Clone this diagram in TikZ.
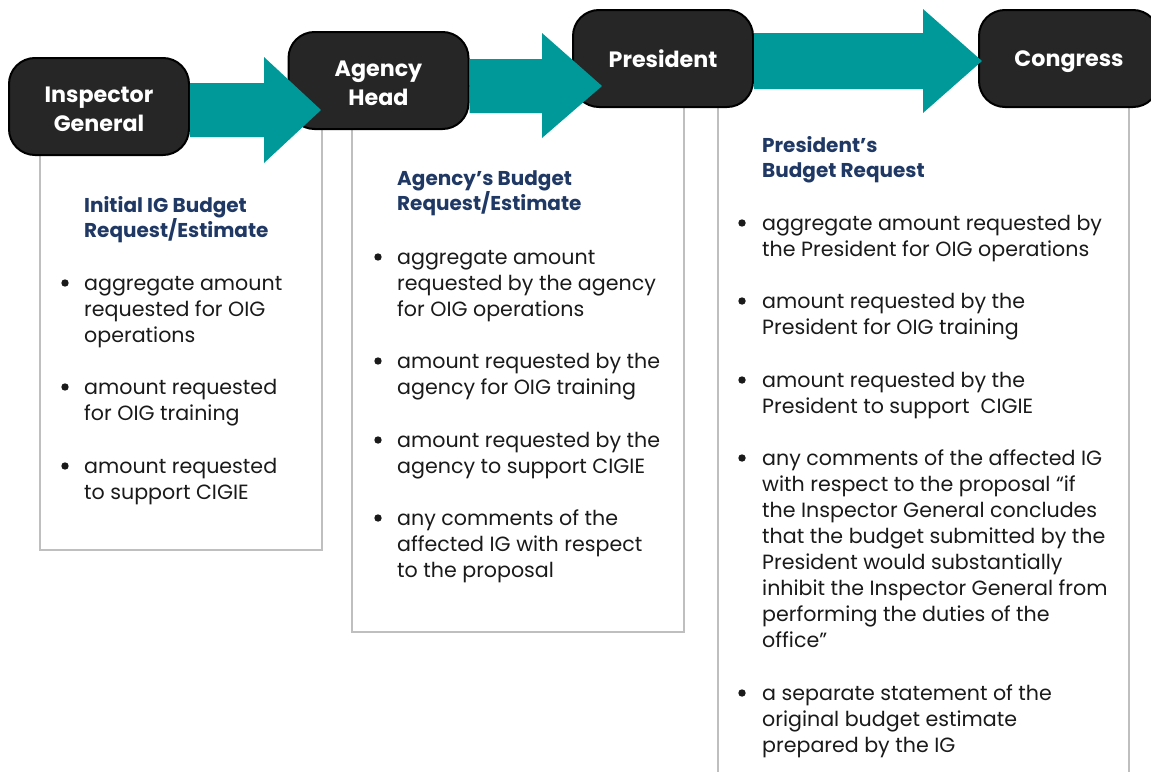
\documentclass[tikz,border=0pt]{standalone}
\usepackage{fontspec}
\setmainfont{Poppins}
\definecolor{stagefill}{HTML}{262626}
\definecolor{flowteal}{HTML}{009999}
\definecolor{panelgray}{HTML}{BFBFBF}
\definecolor{headnavy}{HTML}{1F3864}
\definecolor{bodyink}{HTML}{1A1A1A}
\newcommand{\bodysize}{\fontsize{20.6}{26}\selectfont}
\newcommand{\headsize}{\fontsize{20}{25.5}\selectfont\bfseries}
\newcommand{\stagesize}{\fontsize{22.2}{29}\selectfont\bfseries}
\begin{document}
\begin{tikzpicture}[x=1pt,y=-1pt,
  panel/.style={draw=panelgray, line width=1.5pt, fill=white},
  stage/.style={draw=black, line width=2pt, fill=stagefill, rounded corners=26pt,
    minimum width=180pt, minimum height=97pt, inner sep=0pt, align=center,
    text=white, font=\stagesize},
  flow/.style={fill=flowteal, draw=none},
  heading/.style={anchor=north west, inner sep=0pt, align=left, text=headnavy, font=\headsize},
  item/.style={anchor=north west, inner sep=0pt, align=left, text=bodyink, font=\bodysize},
  dot/.style={circle, fill=bodyink, inner sep=0pt, minimum size=7.4pt}]
\useasboundingbox (0,0) rectangle (1151,771);
\clip (0,0) rectangle (1151,771);

% text panels behind the stages
\draw[panel] (40,110) rectangle (322,550);
\draw[panel] (352,86) rectangle (684,632);
\draw[panel] (718,61) rectangle (1129,800);

% stages
\node[stage] (ig)   at (99,106.5)  {\rule{0pt}{21pt}Inspector\\General};
\node[stage] (head) at (378.5,80.5) {\rule{0pt}{21pt}Agency\\Head};
\node[stage, text depth=0pt] (pres) at (663,58.5)  {President};
\node[stage, text depth=0pt] (cong) at (1069,58.5) {Congress};

% block arrows between stages
\fill[flow] (ig.east |- 0,83) -- (264,83) -- (264,57) -- (321,110) -- (264,163)
  -- (264,137) -- (ig.east |- 0,137) -- cycle;
\fill[flow] (head.east |- 0,59) -- (542,59) -- (542,33) -- (602,86) -- (542,138)
  -- (542,113) -- (head.east |- 0,113) -- cycle;
\fill[flow] (pres.east |- 0,33) -- (923,33) -- (923,9) -- (982,61) -- (923,113)
  -- (923,89) -- (pres.east |- 0,89) -- cycle;

% panel 1: Inspector General
\node[heading] (h1) at (84,192) {\rule{0pt}{20pt}Initial IG Budget\\Request/Estimate};
\node[item] (a1) at (84,270) {\rule{0pt}{20pt}aggregate amount\\requested for OIG\\operations};
\node[item] (a2) at (84,374) {\rule{0pt}{20pt}amount requested\\for OIG training};
\node[item] (a3) at (84,453) {\rule{0pt}{20pt}amount requested\\to support CIGIE};
\node[dot] (d11) at (65,283) {};
\node[dot] (d12) at (65,387) {};
\node[dot] (d13) at (65,466) {};

% panel 2: Agency Head
\node[heading] (h2) at (397,165) {\rule{0pt}{20pt}Agency’s Budget\\Request/Estimate};
\node[item] (b1) at (397,244) {\rule{0pt}{20pt}aggregate amount\\requested by the agency\\for OIG operations};
\node[item] (b2) at (397,348) {\rule{0pt}{20pt}amount requested by the\\agency for OIG training};
\node[item] (b3) at (397,427) {\rule{0pt}{20pt}amount requested by the\\agency to support CIGIE};
\node[item] (b4) at (397,505) {\rule{0pt}{20pt}any comments of the\\affected IG with respect\\to the proposal};
\node[dot] (d21) at (378,257) {};
\node[dot] (d22) at (378,361) {};
\node[dot] (d23) at (378,440) {};
\node[dot] (d24) at (378,518) {};

% panel 3: President
\node[heading] (h3) at (762,132) {\rule{0pt}{20pt}President’s\\Budget Request};
\node[item] (c1) at (762,210) {\rule{0pt}{20pt}aggregate amount requested by\\the President for OIG operations};
\node[item] (c2) at (762,288) {\rule{0pt}{20pt}amount requested by the\\President for OIG training};
\node[item] (c3) at (762,367) {\rule{0pt}{20pt}amount requested by the\\President to support\ \ CIGIE};
\node[item] (c4) at (762,445) {\rule{0pt}{20pt}any comments of the affected IG\\with respect to the proposal “if\\the Inspector General concludes\\that the budget submitted by the\\President would substantially\\inhibit the Inspector General from\\performing the duties of the\\office”};
\node[item] (c5) at (762,680) {\rule{0pt}{20pt}a separate statement of the\\original budget estimate\\prepared by the IG};
\node[dot] (d31) at (742,223) {};
\node[dot] (d32) at (742,301) {};
\node[dot] (d33) at (742,380) {};
\node[dot] (d34) at (742,458) {};
\node[dot] (d35) at (742,693) {};
\end{tikzpicture}
\end{document}
